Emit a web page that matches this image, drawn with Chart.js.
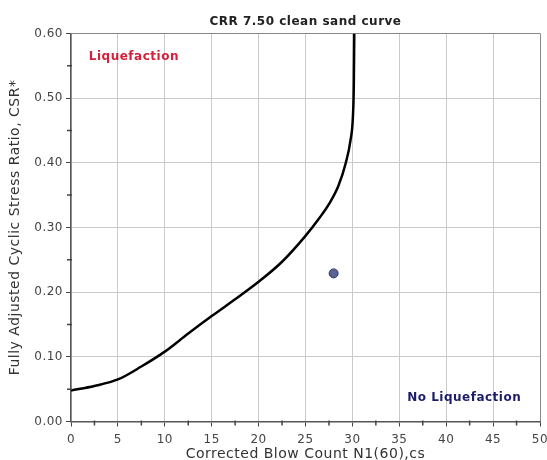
<!DOCTYPE html>
<html>
<head>
<meta charset="utf-8">
<title>CRR 7.50 clean sand curve</title>
<script src="https://cdn.jsdelivr.net/npm/chart.js@4.4.1/dist/chart.umd.min.js"></script>
<style>
  html, body { margin: 0; padding: 0; background: #ffffff; }
  #wrap { width: 547px; height: 460px; }
</style>
</head>
<body>
<div id="wrap"><canvas id="crrChart" width="547" height="460"></canvas></div>
<script>
// Curve: corrected blow count vs CSR
const blowCount = [0, 2.5, 5, 7.5, 10, 12.5, 15, 17.5, 20, 22.5, 25, 26.5, 27.5, 28.5, 29.3, 29.8, 30.05, 30.15, 30.2];
const crrValues = [0.048, 0.055, 0.065, 0.085, 0.108, 0.136, 0.163, 0.189, 0.216, 0.247, 0.287, 0.315, 0.336, 0.364, 0.40, 0.435, 0.47, 0.52, 0.60];

// Single test point
const sampleN = [28];
const sampleCSR = [0.229];

// Axis tick labels
const xTickLabels = ['0', '5', '10', '15', '20', '25', '30', '35', '40', '45', '50'];
const yTickLabels = ['0.00', '0.10', '0.20', '0.30', '0.40', '0.50', '0.60'];

// Region labels
const regionNames = ['Liquefaction', 'No Liquefaction'];

const FONT = 'DejaVu Sans, Verdana, sans-serif';

const xMajor = xTickLabels.map(Number);
const yMajor = yTickLabels.map(Number);
// minor ticks halfway between labelled ones
const xMinor = xMajor.slice(1).map((v, i) => (v + xMajor[i]) / 2);
const yMinor = yMajor.slice(1).map((v, i) => (v + yMajor[i]) / 2);

// where the region labels sit, in data units
const regionAnchors = [
    { x: 1.9, y: 0.564, align: 'left', color: '#d3203c' },
    { x: 48, y: 0.036, align: 'right', color: '#1c1c6a' }
];

// the original text runs a little wide, loosen it slightly
const spacingPlugin = {
    id: 'letterSpacing',
    beforeUpdate(chart) { chart.ctx.letterSpacing = '0.5px'; },
    beforeDraw(chart) { chart.ctx.letterSpacing = '0.5px'; }
};

const regionLabelPlugin = {
    id: 'regionLabels',
    afterDatasetsDraw(chart) {
        const { ctx, scales: { x, y } } = chart;
        ctx.save();
        ctx.font = 'bold 12px ' + FONT;
        ctx.textBaseline = 'middle';
        regionNames.forEach((name, i) => {
            const a = regionAnchors[i];
            ctx.fillStyle = a.color;
            ctx.textAlign = a.align;
            ctx.fillText(name, x.getPixelForValue(a.x), y.getPixelForValue(a.y));
        });
        ctx.restore();
    }
};

// short minor tick marks on the outside of both axes
const minorTickPlugin = {
    id: 'minorTicks',
    afterDraw(chart) {
        const { ctx, chartArea, scales: { x, y } } = chart;
        ctx.save();
        ctx.strokeStyle = '#444';
        ctx.lineWidth = 1.5;
        ctx.beginPath();
        xMinor.forEach(v => {
            const px = x.getPixelForValue(v);
            ctx.moveTo(px, chartArea.bottom - 1);
            ctx.lineTo(px, chartArea.bottom + 4);
        });
        yMinor.forEach(v => {
            const py = y.getPixelForValue(v);
            ctx.moveTo(chartArea.left + 1, py);
            ctx.lineTo(chartArea.left - 4, py);
        });
        ctx.stroke();
        ctx.restore();
    }
};

new Chart(document.getElementById('crrChart'), {
    type: 'scatter',
    data: {
        datasets: [
            {
                label: 'CRR 7.5',
                data: blowCount.map((n, i) => ({ x: n, y: crrValues[i] })),
                showLine: true,
                borderColor: '#000000',
                borderWidth: 2.5,
                pointRadius: 0,
                cubicInterpolationMode: 'monotone',
                fill: false
            },
            {
                label: 'Sample',
                data: sampleN.map((n, i) => ({ x: n, y: sampleCSR[i] })),
                pointRadius: 4.5,
                backgroundColor: '#5a6494',
                borderColor: '#2d3462',
                borderWidth: 1
            }
        ]
    },
    options: {
        responsive: false,
        animation: false,
        layout: { padding: 0 },
        plugins: {
            legend: { display: false },
            tooltip: { enabled: false },
            title: {
                display: true,
                fullSize: false,
                text: 'CRR 7.50 clean sand curve',
                color: '#222',
                font: { family: FONT, size: 12, weight: 'bold' },
                padding: { top: 15, bottom: 4 }
            }
        },
        scales: {
            x: {
                type: 'linear',
                min: 0,
                max: 50,
                afterFit: (scale) => {
                    scale.height = 38.5;
                    scale.paddingLeft = 0;
                    scale.paddingRight = 7;
                },
                afterBuildTicks: (scale) => { scale.ticks = xMajor.map(v => ({ value: v })); },
                ticks: {
                    autoSkip: false,
                    maxRotation: 0,
                    padding: 6,
                    color: '#444',
                    font: { family: FONT, size: 12 },
                    callback: (v, i) => xTickLabels[i]
                },
                grid: {
                    color: (c) => (c.tick && c.tick.value === 50) ? '#888' : '#cacaca',
                    tickColor: '#444',
                    tickLength: 5,
                    lineWidth: 1
                },
                border: { display: true, color: '#555', width: 1.5 },
                title: {
                    display: true,
                    text: 'Corrected Blow Count N1(60),cs',
                    color: '#333',
                    font: { family: FONT, size: 14 },
                    padding: { top: 0, bottom: -3 }
                }
            },
            y: {
                type: 'linear',
                min: 0,
                max: 0.6,
                afterFit: (scale) => { scale.width = 71; },
                afterBuildTicks: (scale) => { scale.ticks = yMajor.map(v => ({ value: v })); },
                ticks: {
                    autoSkip: false,
                    padding: 3,
                    color: '#444',
                    font: { family: FONT, size: 12 },
                    callback: (v, i) => yTickLabels[i]
                },
                grid: {
                    color: (c) => (c.tick && Math.abs(c.tick.value - 0.6) < 1e-6) ? '#888' : '#cacaca',
                    tickColor: '#444',
                    tickLength: 5,
                    lineWidth: 1
                },
                border: { display: true, color: '#555', width: 1.5 },
                title: {
                    display: true,
                    text: 'Fully Adjusted Cyclic Stress Ratio, CSR*',
                    color: '#333',
                    font: { family: FONT, size: 14 },
                    padding: { top: 7, bottom: 0 }
                }
            }
        }
    },
    plugins: [spacingPlugin, regionLabelPlugin, minorTickPlugin]
});
</script>
</body>
</html>
